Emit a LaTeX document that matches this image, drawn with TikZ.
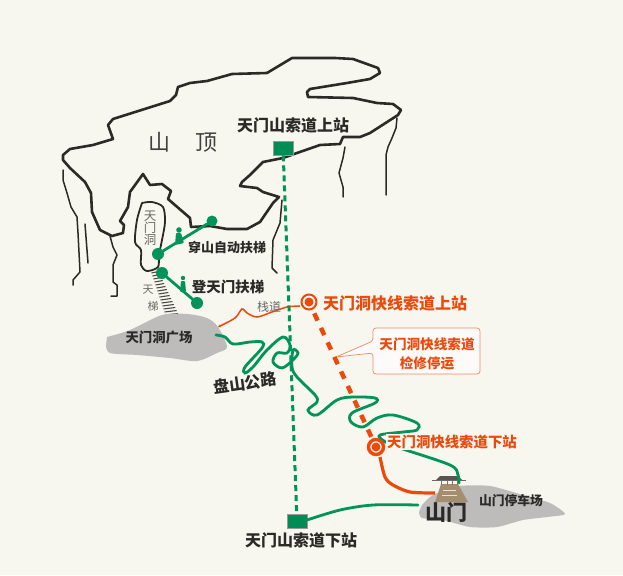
\documentclass[tikz,border=0pt]{standalone}
\usepackage{fontspec}
\usetikzlibrary{arrows.meta}
\setmainfont{Noto Sans CJK SC}
\definecolor{bgcol}{HTML}{F7F6EF}
\definecolor{rockcol}{HTML}{2B2A27}
\definecolor{roadcol}{HTML}{00935A}
\definecolor{fastcol}{HTML}{EA4A0C}
\definecolor{blobcol}{HTML}{BDBCBA}
\definecolor{gatecol}{HTML}{A58E70}
\definecolor{graytxt}{HTML}{6B6A66}
\tikzset{
  rock/.style={rockcol,line width=2.6pt,line join=round,line cap=round},
  cliff/.style={rockcol,line width=1.5pt,line join=round,line cap=round},
  road/.style={roadcol,line width=2.8pt,line cap=round},
  station/.style={draw=gray!80,line width=0.8pt,fill=roadcol!95!black,minimum width=20pt,minimum height=14pt,inner sep=0pt},
  liftdot/.style={circle,fill=roadcol,inner sep=0pt,minimum size=#1},
  fastring/.style={circle,draw=fastcol,fill=bgcol,inner sep=0pt,minimum size=15pt},
  fastcore/.style={circle,fill=fastcol,inner sep=0pt,minimum size=9pt},
  blk/.style={text=rockcol,font=\bfseries\fontsize{#1}{#1}\selectfont,inner sep=0pt},
  org/.style={text=fastcol,font=\bfseries\fontsize{#1}{#1}\selectfont,inner sep=0pt},
  gry/.style={text=graytxt,font=\fontsize{#1}{#1}\selectfont,inner sep=0pt},
}
\begin{document}
\begin{tikzpicture}[x=1pt,y=-1pt]
\useasboundingbox (0,0) rectangle (623,575);
\fill[bgcol] (0,0) rectangle (623,575);

% mountain top
\draw[rock] (63,160) -- (70,168) -- (85,182) -- (91,193) -- (92,212) -- (100,230) -- (112,236) -- (123,233) -- (124,225) -- (120,221)
 -- (128,207) -- (130,192) -- (143,174) -- (150,185) -- (162,184) -- (171,191) -- (168,199) -- (190,218) -- (191,227)
 -- (210,226) -- (227,229) -- (247,229) -- (260,222) -- (273,203) -- (279,197) -- (263,192) -- (257,188) -- (240,186) -- (242,182)
 -- (250,175) -- (263,162) -- (283,158) -- (297,153) -- (320,145) -- (340,144) -- (343,137) -- (360,137) -- (370,133) -- (398,115)
 -- (401,110) -- (393,104) -- (377,103) -- (353,98) -- (308,97) -- (307,92) -- (310,89) -- (347,83) -- (370,79) -- (380,73)
 -- (378,68) -- (353,59) -- (335,58) -- (292,58) -- (267,73) -- (232,74) -- (207,81) -- (190,83) -- (178,87) -- (176,95)
 -- (170,101) -- (113,119) -- (108,125) -- (113,139) -- (93,145) -- (70,149) -- (63,155) -- cycle;

% cliffs
\draw[cliff] (63,170) -- (63,180) -- (67,193) -- (71,207) -- (77,217) -- (78,233) -- (80,272) -- (73,280) -- (73,285);
\draw[cliff] (85,224) -- (88,263);
\draw[cliff] (110,236) -- (113,247) -- (117,255) -- (113,265) -- (113,282) -- (117,285) -- (117,296) -- (111,296);
\draw[cliff] (397,118) -- (396,128) -- (392,138) -- (388,147) -- (386,155) -- (386,195);
\draw[cliff] (345,147) -- (343,158) -- (339,173) -- (343,187) -- (343,197);
\draw[cliff] (282,200) -- (280,223) -- (273,240) -- (272,268) -- (277,273);

% cave
\draw[cliff,line width=1.8pt] plot[smooth,tension=0.5] coordinates {(142,203) (152,202) (163,207) (165,222) (162,240) (159,255) (158,267) (147,271) (141,265) (141,250) (135,242) (137,220) (142,203)};

% stairs
\foreach \i in {0,...,15}
  \draw[rockcol!85,line width=1.1pt] ({151.5+\i},{273+3*\i}) -- ({158.5+1.4*\i},{271.5+3*\i});

% squares
\fill[blobcol] plot[smooth,tension=0.5] coordinates {(107,337) (130,330) (162,315) (187,314) (207,318) (218,327) (227,347) (217,353) (197,361) (170,358) (137,355) (110,353) (106,345)} -- cycle;
\fill[blobcol] plot[smooth,tension=0.4] coordinates {(422,505) (433,495) (460,486) (490,486) (523,495) (550,503) (565,514) (547,517) (523,520) (497,527) (470,527) (443,520) (422,518) (419,512)} -- cycle;

% gate
\fill[gatecol] (441,484) -- (458,484) -- (468,502) -- (435,502) -- cycle;
\draw[bgcol!80!gatecol,line width=1pt] (443,490) -- (456,490);
\draw[bgcol!80!gatecol,line width=1pt] (442,495) -- (457,495);
\foreach \x in {441,447,452,457}
  \draw[gatecol!80!black,line width=0.8pt] (\x,479) -- (\x,485);
\fill[rockcol!80] (440,476) -- (458,476) -- (462,480) -- (436,480) -- cycle;
\draw[rockcol!70,line width=0.7pt] (432,480.5) -- (466,480.5);

% winding road
\draw[road] plot[smooth,tension=0.55] coordinates {(216,335) (225,337) (233,344) (250,342) (262,342) (262,348) (245,367) (245,373) (253,367) (267,350) (283,337) (290,345) (287,353) (277,353) (273,362) (282,368) (293,360) (298,353) (293,350) (292,367) (297,377) (315,395) (317,402) (308,410) (317,415) (337,400) (353,397) (375,398) (375,403) (352,413) (351,422) (363,427) (377,418) (393,415) (417,423) (417,430) (403,432) (380,435) (384,441) (400,448) (450,465) (458,475) (459,483)};

% plank road
\draw[fastcol,line width=1.5pt,-{Stealth[length=3pt,width=3pt]}] plot[smooth,tension=0.5] coordinates {(300,306) (287,307) (272,312) (257,317) (247,313) (242,309) (235,318) (218,327)};

% stations
\node[station] (topstation) at (283,148) {};
\node[station] (lowstation) at (297,521) {};
\node[fastring,line width=2pt] (fasttop) at (309,302) {};
\node[fastcore] (fasttopcore) at (fasttop.center) {};
\node[fastring,line width=3.4pt] (fastlow) at (376,447) {};
\node[fastcore] (fastlowcore) at (fastlow.center) {};
\coordinate (calltip) at (336,357);

\draw[road,dash pattern=on 6pt off 4pt,line cap=butt,line width=3pt] (topstation) -- (lowstation);
\draw[fastcol,line width=4.5pt,dash pattern=on 8pt off 8pt,shorten <=4pt] (fasttop) -- (fastlow);
\draw[fastcol,line width=3.2pt] plot[smooth,tension=0.5] coordinates {(380,457) (385,477) (393,485) (410,492) (435,493)};
\draw[road] plot[smooth,tension=0.5] coordinates {(307,520) (340,510) (373,505) (418,505)};

% escalators
\node[liftdot=11pt] (liftA) at (212,221) {};
\node[liftdot=12pt] (liftB) at (158,254) {};
\node[liftdot=12pt] (liftC) at (162,273) {};
\node[liftdot=12pt] (liftD) at (197,303) {};
\draw[road] (liftB) -- (liftA);
\draw[road] (liftC) -- (liftD);
\fill[roadcol] (179,230) circle (2.8);
\fill[roadcol,rounded corners=1pt] (176,233) -- (181,233) -- (184,243) -- (175,245) -- cycle;
\fill[roadcol] (183,278) circle (2.2);
\fill[roadcol,rounded corners=1pt] (181,281) -- (185,281) -- (186,292) -- (180,292) -- cycle;

% callout
\draw[draw=fastcol!65,fill=white!60!bgcol,line width=0.7pt,rounded corners=3pt] (373,328) -- (480,328) -- (480,374) -- (373,374) -- (373,353) -- (calltip) -- (373,341) -- cycle;
\node[org=13.6] (calla) at (427,344) {天门洞快线索道};
\node[org=13.6] (callb) at (427,363) {检修停运};

% labels
\node[gry=22,text=rockcol!90] (shanding) at (183,142) {山\hspace{26pt}顶};
\node[blk=16] (toplabel) at (293,125) {天门山索道上站};
\node[gry=12.5,align=center] (cavelabel) at (150,228) {天\\[-0.5pt]门\\[-0.5pt]洞};
\node[blk=13] (liftlabelA) at (227,248) {穿山自动扶梯};
\node[blk=14.5] (liftlabelB) at (228,287) {登天门扶梯};
\node[gry=11] (tianA) at (148,290) {天};
\node[gry=11] (tianB) at (153,306) {梯};
\node[gry=12] (plank) at (269,307) {栈道};
\node[blk=13.4] (squarelabel) at (159,337) {天门洞广场};
\node[blk=16,rotate=8] (roadlabel) at (245,383) {盘山公路};
\node[org=16] (fasttoplabel) at (395,303) {天门洞快线索道上站};
\node[org=14.4,fill=bgcol,inner sep=1pt] (fastlowlabel) at (452,442) {天门洞快线索道下站};
\node[blk=16] (lowlabel) at (301,540) {天门山索道下站};
\node[blk=21] (gatelabel) at (446,512) {山门};
\node[blk=12.8] (parklabel) at (511,501) {山门停车场};
\end{tikzpicture}
\end{document}
